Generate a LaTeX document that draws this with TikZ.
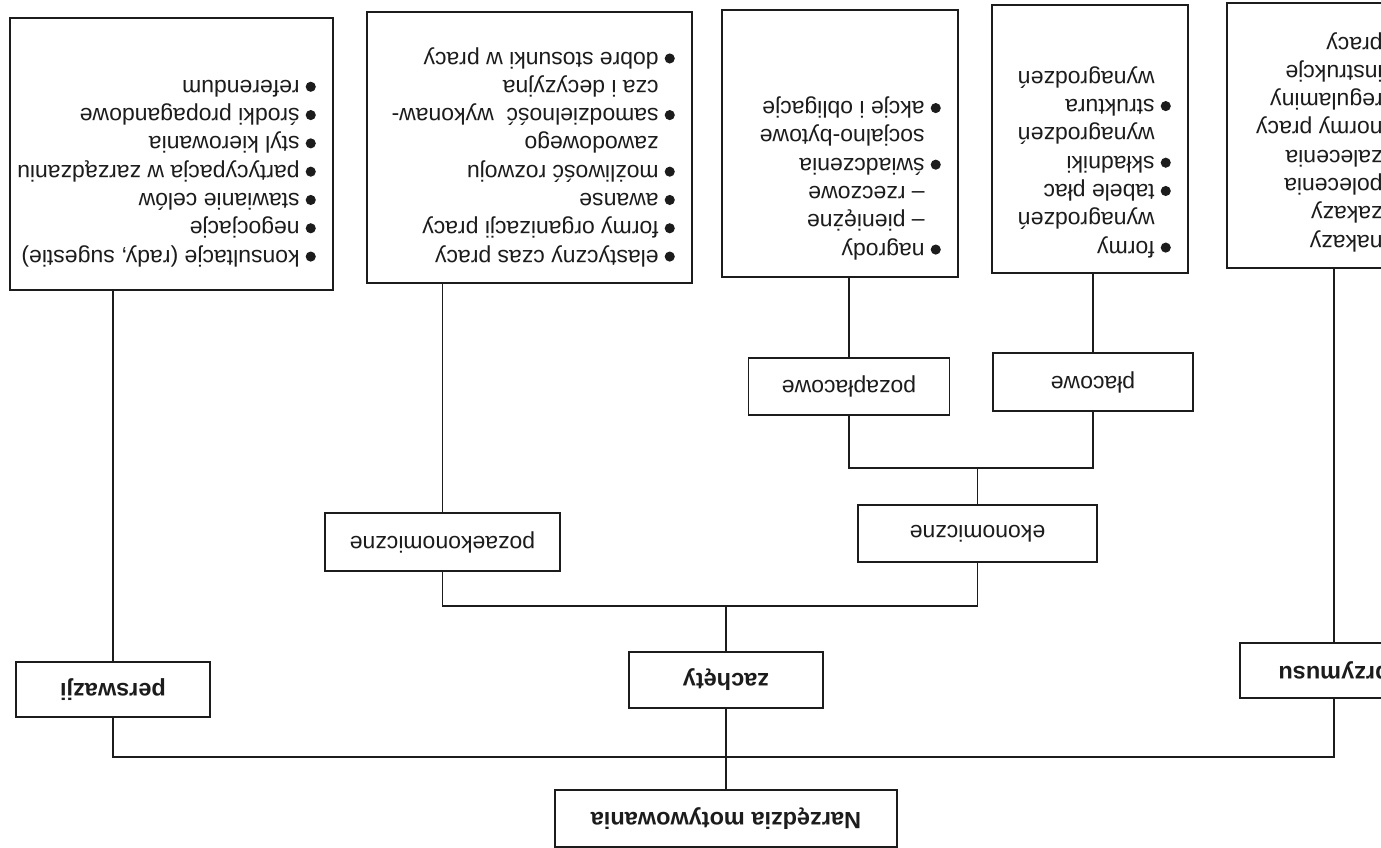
\documentclass[tikz,border=0pt]{standalone}
\usepackage{fontspec}
\setmainfont{Liberation Sans}
\usepackage{graphicx}
\definecolor{inkc}{HTML}{1C1C1C}
\newcommand\bul{\makebox[0.7em][l]{\tikz[baseline=0pt]\fill[inkc] (0.22em,0.28em) circle[radius=0.22em];}}
\newcommand\ind{\hspace*{0.7em}}
\begin{document}
\begin{tikzpicture}[x=1pt,y=-1pt,
  box/.style={draw=inkc, line width=1.7pt, inner sep=0pt},
  lbl/.style={box, font=\fontsize{23}{27}\selectfont, text=inkc},
  blbl/.style={box, font=\fontsize{23.5}{27}\selectfont\bfseries, text=inkc},
  txt/.style={rotate=180, align=left, inner sep=0pt, anchor=north west,
    font=\fontsize{23}{28.3}\selectfont, text=inkc},
  conn/.style={draw=inkc, line width=1.7pt}]
\useasboundingbox (0,0) rectangle (1381,848);
\clip (0,0) rectangle (1381,848);
\fill[white] (0,0) rectangle (1381,848);

% top list boxes
\node[box, minimum width=323pt, minimum height=272pt] (b1) at (171.5,154) {};
\node[box, minimum width=325pt, minimum height=271pt] (b2) at (529.5,147.5) {};
\node[box, minimum width=236pt, minimum height=267pt] (b3) at (840,143.5) {};
\node[box, minimum width=196pt, minimum height=268pt] (b4) at (1090,139) {};
\node[box, minimum width=189pt, minimum height=265pt] (b5) at (1321.5,135.5) {};

\node[txt] (t1) at (316,267) {\bul konsultacje (rady, sugestie)\\
\bul negocjacje\\
\bul stawianie celów\\
\bul partycypacja w zarządzaniu\\
\bul styl kierowania\\
\bul środki propagandowe\\
\bul referendum};

\node[txt] (t2) at (675,267) {\bul elastyczny czas pracy\\
\bul formy organizacji pracy\\
\bul awanse\\
\bul możliwość rozwoju\\
\ind zawodowego\\
\bul samodzielność\ \ wykonaw-\\
\ind cza i decyzyjna\\
\bul dobre stosunki w pracy};

\node[txt] (t3) at (941,260) {\bul nagrody\\
\ind – pieniężne\\
\ind – rzeczowe\\
\bul świadczenia\\
\ind socjalno-bytowe\\
\bul akcje i obligacje};

\node[txt] (t4) at (1171,258) {\bul formy\\
\ind wynagrodzeń\\
\bul tabele płac\\
\bul składniki\\
\ind wynagrodzeń\\
\bul struktura\\
\ind wynagrodzeń};

\node[txt] (t5) at (1399,252) {\bul nakazy\\
\bul zakazy\\
\bul polecenia\\
\bul zalecenia\\
\bul normy pracy\\
\bul regulaminy\\
\bul instrukcje\\
\ind pracy};

% label boxes
\node[blbl, minimum width=194pt, minimum height=55pt] (per) at (113,689.5) {\rotatebox{180}{perswazji}};
\node[blbl, minimum width=194pt, minimum height=56pt] (zach) at (726,680) {\rotatebox{180}{zachęty}};
\node[blbl, minimum width=188pt, minimum height=55pt] (przy) at (1334,670.5) {\rotatebox{180}{przymusu}};
\node[blbl, minimum width=342pt, minimum height=57pt] (narz) at (726,818.5) {\rotatebox{180}{Narzędzia motywowania}};
\node[lbl, minimum width=235pt, minimum height=58pt] (pozaek) at (442.5,542) {\rotatebox{180}{pozaekonomiczne}};
\node[lbl, minimum width=239pt, minimum height=57pt] (ekon) at (977.5,533.5) {\rotatebox{180}{ekonomiczne}};
\node[lbl, minimum width=201pt, minimum height=57pt] (pozapl) at (849,386.5) {\rotatebox{180}{pozapłacowe}};
\node[lbl, minimum width=200pt, minimum height=58pt] (plac) at (1093,382) {\rotatebox{180}{płacowe}};

% bus coordinates
\coordinate (busA) at (0,468);
\coordinate (busB) at (0,606);
\coordinate (busC) at (0,757);

% connectors
\draw[conn] (per.north) -- (per.north |- b1.south);
\draw[conn] (pozaek.north) -- (pozaek.north |- b2.south);
\draw[conn] (pozapl.north) -- (pozapl.north |- b3.south);
\draw[conn] (plac.north) -- (plac.north |- b4.south);
\draw[conn] (przy.north) -- (przy.north |- b5.south);
\draw[conn] (pozapl.south) -- (pozapl.south |- busA) -| (plac.south);
\draw[conn] (ekon.north) -- (ekon.north |- busA);
\draw[conn] (pozaek.south) -- (pozaek.south |- busB) -| (ekon.south);
\draw[conn] (zach.north) -- (zach.north |- busB);
\draw[conn] (per.south) -- (per.south |- busC) -| (przy.south);
\draw[conn] (zach.south) -- (narz.north);
\end{tikzpicture}
\end{document}
